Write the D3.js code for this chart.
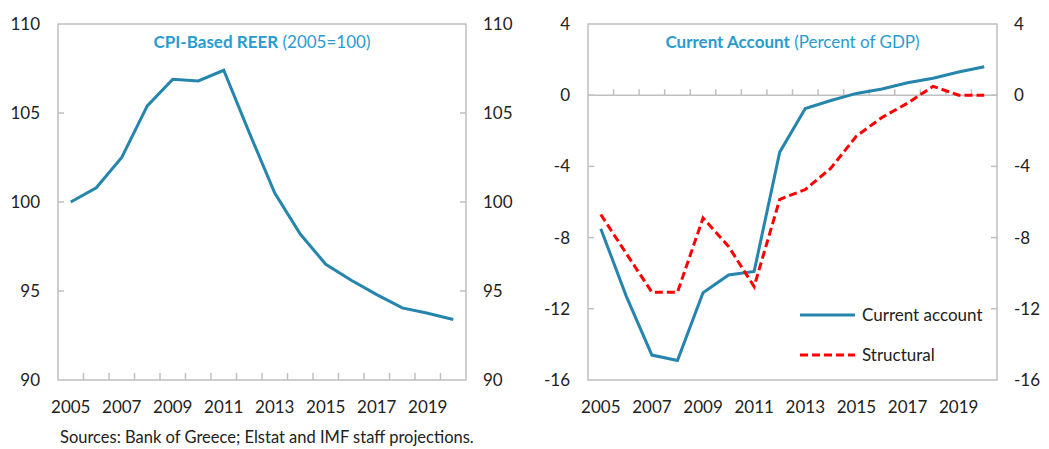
<!DOCTYPE html>
<html>
<head>
<meta charset="utf-8">
<script src="https://cdnjs.cloudflare.com/ajax/libs/d3/7.8.5/d3.min.js"></script>
<style>
	body { margin: 0; background: #fff; }
	svg { font-family: Lato, "Open Sans", sans-serif; }
	.tick-label { font-size: 17px; fill: #222; }
</style>
</head>
<body>
<svg id="chart" width="1049" height="449"></svg>
<script>
	// years on the x axis
	var years = d3.range(2005, 2021);
	var yearLabels = ["2005","2007","2009","2011","2013","2015","2017","2019"];

	// left panel: CPI-based REER (2005=100)
	var reer = [100.0, 100.8, 102.5, 105.4, 106.9, 106.8, 107.4, 103.9, 100.5, 98.2, 96.5, 95.6, 94.8, 94.05, 93.75, 93.4];
	var reerTicks = [90, 95, 100, 105, 110];

	// right panel: current account (percent of GDP)
	var currentAccount = [-7.5, -11.3, -14.6, -14.9, -11.1, -10.1, -9.9, -3.2, -0.75, -0.3, 0.1, 0.35, 0.7, 0.95, 1.3, 1.6];
	var structural = [-6.7, -8.9, -11.07, -11.07, -6.9, -8.5, -10.75, -5.85, -5.3, -4.1, -2.3, -1.25, -0.45, 0.5, 0.0, 0.0];
	var caTicks = [-16, -12, -8, -4, 0, 4];

	var blue = "#2585ad", red = "#ff0000", titleBlue = "#2a9bd0", frame = "#bfbfbf";

	var svg = d3.select("#chart");

	function panel(opt){
		var g = svg.append("g");
		var x = d3.scaleBand().domain(years).range([opt.left, opt.right]).padding(0);
		var y = d3.scaleLinear().domain(opt.domain).range([opt.bottom, opt.top]);

		// frame
		g.append("rect")
			.attr("x", opt.left).attr("y", opt.top)
			.attr("width", opt.right - opt.left).attr("height", opt.bottom - opt.top)
			.attr("fill", "none").attr("stroke", frame).attr("stroke-width", 1.5);

		// y ticks inside on both sides + labels
		opt.ticks.forEach(function(t){
			var yy = y(t);
			if (t !== opt.domain[0] && t !== opt.domain[1]) {
				g.append("line").attr("x1", opt.left).attr("x2", opt.left + 6)
					.attr("y1", yy).attr("y2", yy).attr("stroke", frame).attr("stroke-width", 1.5);
				g.append("line").attr("x1", opt.right - 6).attr("x2", opt.right)
					.attr("y1", yy).attr("y2", yy).attr("stroke", frame).attr("stroke-width", 1.5);
			}
			g.append("text").attr("class", "tick-label")
				.attr("x", opt.left - 18).attr("y", yy).attr("dy", "0.35em")
				.attr("text-anchor", "end").text(t);
			g.append("text").attr("class", "tick-label")
				.attr("x", opt.right + 17).attr("y", yy).attr("dy", "0.35em")
				.attr("text-anchor", "start").text(t);
		});

		// x axis line (baseline) and category ticks between bands
		var base = y(opt.baseline);
		if (opt.baseline !== opt.domain[0]) {
			g.append("line").attr("x1", opt.left).attr("x2", opt.right)
				.attr("y1", base).attr("y2", base).attr("stroke", frame).attr("stroke-width", 1.5);
		}
		years.slice(1).forEach(function(yr){
			var xx = x(yr);
			var dir = opt.baseline === opt.domain[0] ? -7 : -6;
			g.append("line").attr("x1", xx).attr("x2", xx)
				.attr("y1", base).attr("y2", base + dir)
				.attr("stroke", frame).attr("stroke-width", 1.5);
		});

		// year labels
		yearLabels.forEach(function(l){
			g.append("text").attr("class", "tick-label")
				.attr("x", x(+l) + x.bandwidth() / 2).attr("y", 413)
				.attr("text-anchor", "middle").text(l);
		});

		// title
		var title = g.append("text")
			.attr("x", (opt.left + opt.right) / 2).attr("y", 48)
			.attr("text-anchor", "middle").attr("fill", titleBlue).style("font-size", "17px");
		title.append("tspan").attr("font-weight", "bold").text(opt.title);
		title.append("tspan").text(" " + opt.subtitle);

		var line = d3.line()
			.x(function(d, i){ return x(years[i]) + x.bandwidth() / 2; })
			.y(function(d){ return y(d); });

		opt.series.forEach(function(s){
			g.append("path").datum(s.values)
				.attr("d", line)
				.attr("fill", "none")
				.attr("stroke", s.color)
				.attr("stroke-width", 3)
				.attr("stroke-dasharray", s.dash || null)
				.attr("stroke-linejoin", "miter");
		});
		return { g: g, x: x, y: y };
	}

	panel({
		left: 58, right: 466, top: 24, bottom: 380,
		domain: [90, 110], ticks: reerTicks, baseline: 90,
		title: "CPI-Based REER", subtitle: "(2005=100)",
		series: [{ values: reer, color: blue }]
	});

	var right = panel({
		left: 588, right: 997, top: 24, bottom: 380,
		domain: [-16, 4], ticks: caTicks, baseline: 0,
		title: "Current Account", subtitle: "(Percent of GDP)",
		series: [
			{ values: currentAccount, color: blue },
			{ values: structural, color: red, dash: "8,4" }
		]
	});

	// legend
	var legend = [
		{ name: "Current account", color: blue, dash: null, y: 315 },
		{ name: "Structural", color: red, dash: "8,4", y: 355 }
	];
	legend.forEach(function(l){
		right.g.append("line").attr("x1", 800).attr("x2", 855)
			.attr("y1", l.y).attr("y2", l.y)
			.attr("stroke", l.color).attr("stroke-width", 3)
			.attr("stroke-dasharray", l.dash);
		right.g.append("text").attr("x", 862).attr("y", l.y).attr("dy", "0.35em")
			.style("font-size", "17px").attr("fill", "#222").text(l.name);
	});

	svg.append("text").attr("x", 60).attr("y", 443)
		.style("font-size", "16.5px").attr("fill", "#222")
		.text("Sources: Bank of Greece; Elstat and IMF staff projections.");
</script>
</body>
</html>
